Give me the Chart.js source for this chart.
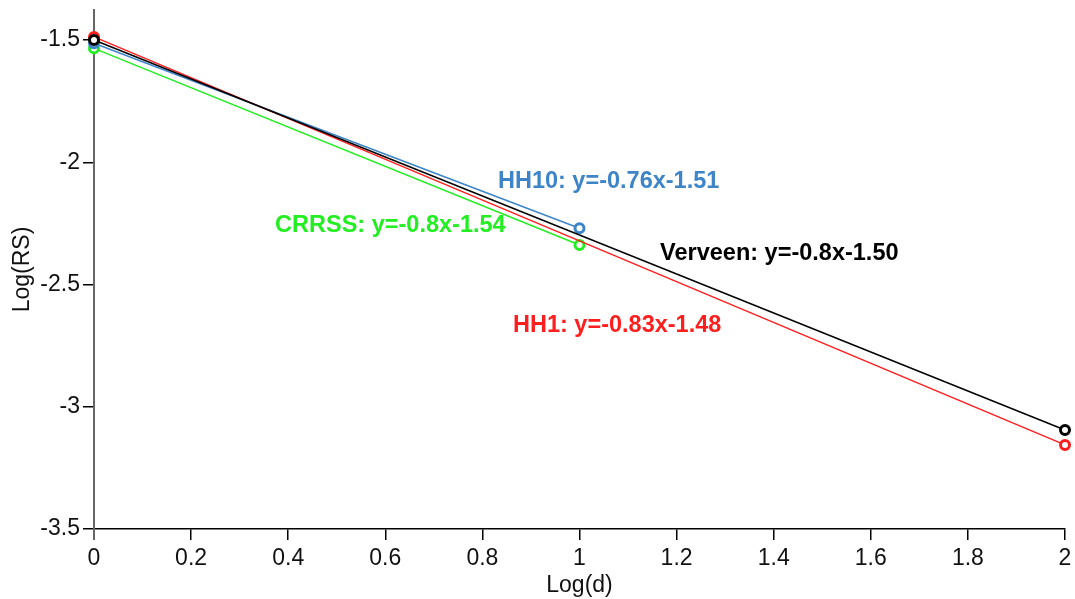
<!DOCTYPE html>
<html>
<head>
<meta charset="utf-8">
<script src="https://cdn.jsdelivr.net/npm/chart.js@4/dist/chart.umd.min.js"></script>
<style>
  html, body { margin: 0; padding: 0; background: #fff; }
  #wrap { width: 1075px; height: 599px; }
</style>
</head>
<body>
<div id="wrap"><canvas id="c" width="1075" height="599"></canvas></div>
<script>
// ---- data ----
const seriesNames = ['Verveen', 'HH1', 'HH10', 'CRRSS'];
const verveenX = [0, 2];
const verveenY = [-1.50, -3.095];
const hh1X = [0, 2];
const hh1Y = [-1.487, -3.156];
const hh10X = [0, 1];
const hh10Y = [-1.513, -2.270];
const crrssX = [0, 1];
const crrssY = [-1.534, -2.338];
const xTicks = [0, 0.2, 0.4, 0.6, 0.8, 1, 1.2, 1.4, 1.6, 1.8, 2];
const yTicks = [-3.5, -3, -2.5, -2, -1.5];
const fitLabels = ['Verveen: y=-0.8x-1.50', 'HH1: y=-0.83x-1.48', 'HH10: y=-0.76x-1.51', 'CRRSS: y=-0.8x-1.54'];
const xTitle = 'Log(d)';
const yTitle = 'Log(RS)';

// ---- styles / annotation anchors (data coordinates) ----
const colors = ['#000000', '#ff1e1e', '#3d85c8', '#22ee22'];
const labelAnchorX = [1.166, 0.863, 0.832, 0.373];
const labelAnchorY = [-2.375, -2.666, -2.077, -2.257];

function pts(xs, ys) { return xs.map((x, i) => ({ x: x, y: ys[i] })); }
const allData = [pts(verveenX, verveenY), pts(hh1X, hh1Y), pts(hh10X, hh10Y), pts(crrssX, crrssY)];

const FONT = '"Liberation Sans", Arial, sans-serif';

const datasets = allData.map((d, i) => ({
  label: seriesNames[i],
  data: d,
  showLine: true,
  clip: false,
  borderColor: colors[i],
  backgroundColor: '#ffffff',
  borderWidth: 1.5,
  pointRadius: 4.5,
  pointBorderWidth: 3,
  pointBorderColor: colors[i],
  pointBackgroundColor: '#ffffff',
  tension: 0
}));

const extrasPlugin = {
  id: 'extras',
  afterDatasetsDraw(chart) {
    const ctx = chart.ctx;
    const xs = chart.scales.x, ys = chart.scales.y;
    ctx.save();
    // extend y axis line below x axis
    ctx.strokeStyle = '#666666';
    ctx.lineWidth = 2;
    ctx.beginPath();
    ctx.moveTo(xs.left, chart.chartArea.bottom);
    ctx.lineTo(xs.left, chart.chartArea.bottom + 11);
    ctx.stroke();
    // fit labels
    ctx.font = 'bold 23.5px ' + FONT;
    ctx.textAlign = 'left';
    ctx.textBaseline = 'middle';
    fitLabels.forEach((t, i) => {
      ctx.fillStyle = colors[i];
      ctx.fillText(t, xs.getPixelForValue(labelAnchorX[i]), ys.getPixelForValue(labelAnchorY[i]));
    });
    ctx.restore();
  }
};

new Chart(document.getElementById('c'), {
  type: 'scatter',
  data: { datasets: datasets },
  options: {
    responsive: false,
    animation: false,
    layout: { padding: { top: 10, right: 10, left: 9, bottom: 0 } },
    plugins: { legend: { display: false }, tooltip: { enabled: false } },
    scales: {
      x: {
        type: 'linear',
        min: 0, max: 2,
        afterBuildTicks(s) { s.ticks = xTicks.map(v => ({ value: v })); },
        afterFit(s) { s.height = 70; s.paddingLeft = 0; s.paddingRight = 0; },
        border: { display: true, color: '#000000', width: 1.5 },
        grid: { display: true, drawOnChartArea: false, drawTicks: true, tickLength: 11, color: '#000000', lineWidth: 1.5 },
        ticks: { color: '#111111', font: { family: FONT, size: 23 }, padding: 5, maxRotation: 0, autoSkip: false,
          callback: v => String(Math.round(v * 10) / 10) },
        title: { display: true, text: xTitle, color: '#111111', font: { family: FONT, size: 23 }, padding: { top: 0, bottom: 0 } }
      },
      y: {
        type: 'linear',
        min: -3.5, max: -1.377,
        afterBuildTicks(s) { s.ticks = yTicks.map(v => ({ value: v })); },
        afterFit(s) { s.width = 85; s.paddingTop = 0; s.paddingBottom = 0; },
        border: { display: true, color: '#666666', width: 2 },
        grid: { display: true, drawOnChartArea: false, drawTicks: true, tickLength: 11, color: '#000000', lineWidth: 1.5 },
        ticks: { color: '#111111', font: { family: FONT, size: 23 }, padding: 3, autoSkip: false,
          callback: v => String(Math.round(v * 10) / 10) },
        title: { display: true, text: yTitle, color: '#111111', font: { family: FONT, size: 23 }, padding: { top: 0, bottom: 0 } }
      }
    }
  },
  plugins: [extrasPlugin]
});
</script>
</body>
</html>
